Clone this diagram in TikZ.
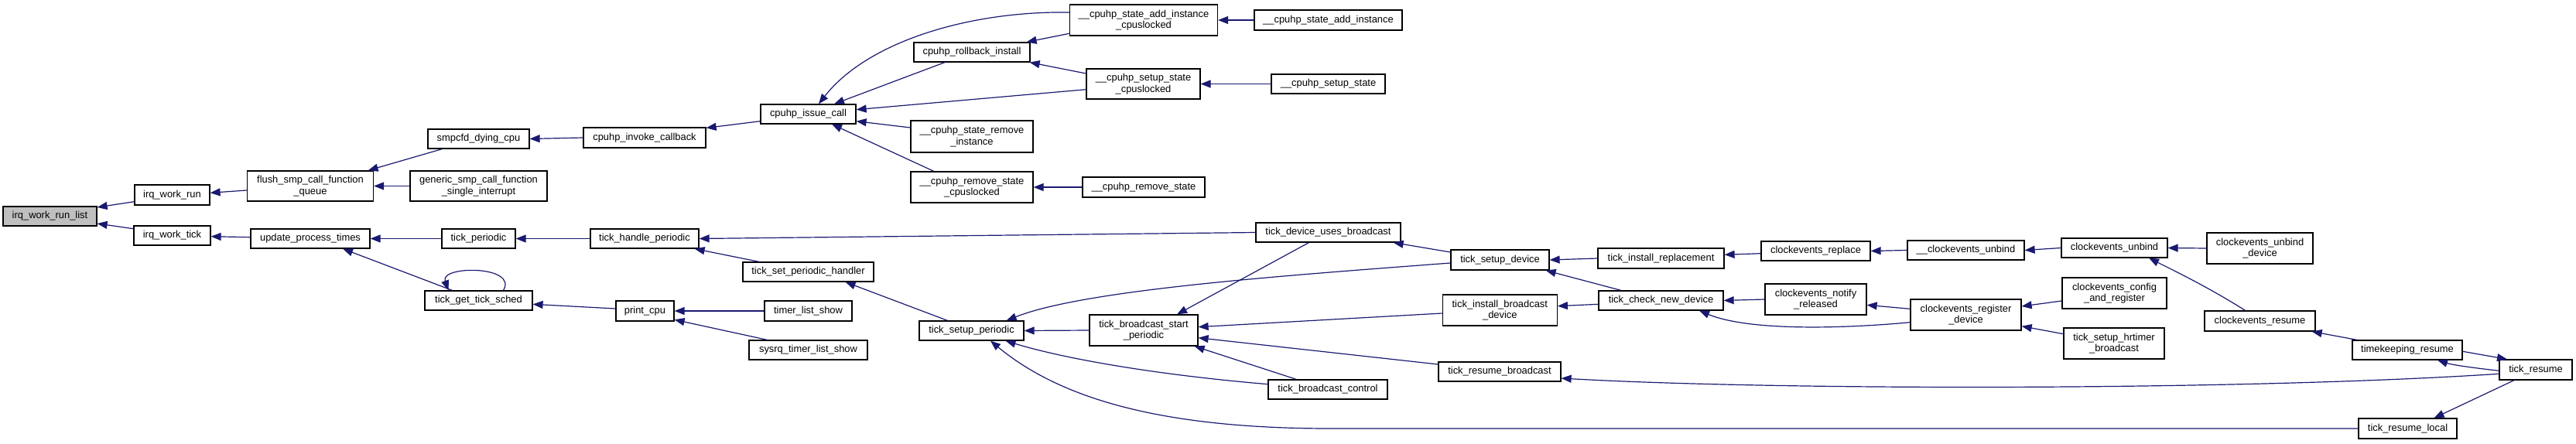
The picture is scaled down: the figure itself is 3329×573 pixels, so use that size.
\documentclass[tikz,border=0pt]{standalone}
\usepackage{fontspec}
\setmainfont{Liberation Sans}
\usetikzlibrary{arrows.meta}
\definecolor{edgeblue}{HTML}{191970}
\definecolor{mainfill}{HTML}{BFBFBF}
\tikzset{
  fnode/.style={draw=black, line width=1.2pt, fill=white, inner sep=0pt, align=center, text=black,
    font={\fontsize{12.9pt}{14.5pt}\selectfont}},
  mainnode/.style={fnode, fill=mainfill},
  edge/.style={draw=edgeblue, line width=1.2pt, -{Triangle[length=13pt,width=10pt]}},
}
\begin{document}
\begin{tikzpicture}[x=1pt,y=-1pt]
\useasboundingbox (0,0) rectangle (3329,573);
% nodes
\node[mainnode, minimum width=121pt, minimum height=25pt] (irl) at (64.5,279.5) {irq\_work\_run\_list};
\node[fnode, minimum width=97pt, minimum height=26pt] (iwr) at (222.5,252) {irq\_work\_run};
\node[fnode, minimum width=99pt, minimum height=25pt] (iwt) at (222.5,304.5) {irq\_work\_tick};
\node[fnode, minimum width=163pt, minimum height=39pt] (fsq) at (401,240.5) {flush\_smp\_call\_function\\\_queue};
\node[fnode, minimum width=154pt, minimum height=25pt] (upt) at (401,308.5) {update\_process\_times};
\node[fnode, minimum width=131pt, minimum height=25pt] (sdc) at (618.5,179.5) {smpcfd\_dying\_cpu};
\node[fnode, minimum width=177pt, minimum height=39pt] (gsc) at (618.5,240.5) {generic\_smp\_call\_function\\\_single\_interrupt};
\node[fnode, minimum width=95pt, minimum height=25pt] (tp) at (618.5,308.5) {tick\_periodic};
\node[fnode, minimum width=139pt, minimum height=25pt] (tgts) at (618.5,388.5) {tick\_get\_tick\_sched};
\node[fnode, minimum width=158pt, minimum height=26pt] (cic) at (833,178) {cpuhp\_invoke\_callback};
\node[fnode, minimum width=140pt, minimum height=25pt] (thp) at (833,308.5) {tick\_handle\_periodic};
\node[fnode, minimum width=75pt, minimum height=26pt] (pc) at (833.5,402) {print\_cpu};
\node[fnode, minimum width=123pt, minimum height=25pt] (cis) at (1044.5,147.5) {cpuhp\_issue\_call};
\node[fnode, minimum width=169pt, minimum height=25pt] (tsph) at (1044.5,351.5) {tick\_set\_periodic\_handler};
\node[fnode, minimum width=113pt, minimum height=26pt] (tls) at (1044.5,402) {timer\_list\_show};
\node[fnode, minimum width=153pt, minimum height=25pt] (stls) at (1044.5,452.5) {sysrq\_timer\_list\_show};
\node[fnode, minimum width=150pt, minimum height=25pt] (cri) at (1256,67.5) {cpuhp\_rollback\_install};
\node[fnode, minimum width=158pt, minimum height=41pt] (csri) at (1256,176.5) {\_\_cpuhp\_state\_remove\\\_instance};
\node[fnode, minimum width=158pt, minimum height=40pt] (crsc) at (1256,242) {\_\_cpuhp\_remove\_state\\\_cpuslocked};
\node[fnode, minimum width=135pt, minimum height=25pt] (tsp) at (1255.5,427.5) {tick\_setup\_periodic};
\node[fnode, minimum width=191pt, minimum height=40pt] (csaic) at (1478,26) {\_\_cpuhp\_state\_add\_instance\\\_cpuslocked};
\node[fnode, minimum width=147pt, minimum height=39pt] (cssc) at (1477.5,108.5) {\_\_cpuhp\_setup\_state\\\_cpuslocked};
\node[fnode, minimum width=158pt, minimum height=26pt] (crs) at (1478,242) {\_\_cpuhp\_remove\_state};
\node[fnode, minimum width=140pt, minimum height=40pt] (tbsp) at (1478,427) {tick\_broadcast\_start\\\_periodic};
\node[fnode, minimum width=191pt, minimum height=26pt] (csai) at (1716.5,26) {\_\_cpuhp\_state\_add\_instance};
\node[fnode, minimum width=147pt, minimum height=25pt] (css) at (1716.5,108.5) {\_\_cpuhp\_setup\_state};
\node[fnode, minimum width=187pt, minimum height=25pt] (tdub) at (1716.5,300.5) {tick\_device\_uses\_broadcast};
\node[fnode, minimum width=154pt, minimum height=25pt] (tbc) at (1716,503.5) {tick\_broadcast\_control};
\node[fnode, minimum width=127pt, minimum height=26pt] (tsd) at (1938.5,336) {tick\_setup\_device};
\node[fnode, minimum width=148pt, minimum height=40pt] (tibd) at (1938.3,401) {tick\_install\_broadcast\\\_device};
\node[fnode, minimum width=158pt, minimum height=25pt] (trb) at (1938,480.5) {tick\_resume\_broadcast};
\node[fnode, minimum width=163pt, minimum height=26pt] (tir) at (2146.5,334) {tick\_install\_replacement};
\node[fnode, minimum width=161pt, minimum height=25pt] (tcnd) at (2146.5,388.5) {tick\_check\_new\_device};
\node[fnode, minimum width=141pt, minimum height=25pt] (cr) at (2346.5,324.5) {clockevents\_replace};
\node[fnode, minimum width=131pt, minimum height=40pt] (cnr) at (2346.5,387) {clockevents\_notify\\\_released};
\node[fnode, minimum width=151pt, minimum height=25pt] (cu) at (2540.5,323.5) {\_\_clockevents\_unbind};
\node[fnode, minimum width=143pt, minimum height=40pt] (crd) at (2540.5,407) {clockevents\_register\\\_device};
\node[fnode, minimum width=137pt, minimum height=25pt] (cub) at (2732.5,320.5) {clockevents\_unbind};
\node[fnode, minimum width=135pt, minimum height=40pt] (ccar) at (2732.5,379) {clockevents\_config\\\_and\_register};
\node[fnode, minimum width=130pt, minimum height=40pt] (tshb) at (2732,444) {tick\_setup\_hrtimer\\\_broadcast};
\node[fnode, minimum width=137pt, minimum height=40pt] (cubd) at (2920.5,321) {clockevents\_unbind\\\_device};
\node[fnode, minimum width=143pt, minimum height=26pt] (cres) at (2920.5,415) {clockevents\_resume};
\node[fnode, minimum width=142pt, minimum height=25pt] (tkr) at (3111,452.5) {timekeeping\_resume};
\node[fnode, minimum width=127pt, minimum height=26pt] (trl) at (3111.5,554) {tick\_resume\_local};
\node[fnode, minimum width=94pt, minimum height=26pt] (tr) at (3277,478) {tick\_resume};
% edges
\draw[edge] ([yshift=-8.7pt]iwr.west) -- ([yshift=11.5pt]irl.east);
\draw[edge] ([yshift=8.8pt]iwt.west) -- ([yshift=-9.5pt]irl.east);
\draw[edge] ([yshift=-5.5pt]fsq.west) -- ([yshift=2.7pt]iwr.east);
\draw[edge] ([yshift=1.8pt]upt.west) -- ([yshift=-1.2pt]iwt.east);
\draw[edge] ([xshift=19pt]sdc.south west) -- ([xshift=-7.5pt]fsq.north east);
\draw[edge] (gsc.west) -- (fsq.east);
\draw[edge] (cic.west) -- (sdc.east);
\draw[edge] ([yshift=-9.2pt]cis.west) -- ([yshift=-1pt]cic.north east);
\draw[edge] ([yshift=10pt]csaic.west) .. controls (1250,14) and (1120,55) .. ([xshift=13.5pt]cis.north);
\draw[edge] ([xshift=-35pt]cri.south) -- ([xshift=33.5pt]cis.north);
\draw[edge] ([yshift=-7.2pt]cssc.west) -- ([yshift=5.8pt]cis.east);
\draw[edge] ([yshift=11.5pt]csri.west) -- ([yshift=-9.2pt]cis.east);
\draw[edge] ([xshift=-49.2pt]crsc.north) -- ([xshift=30.5pt]cis.south);
\draw[edge] ([yshift=-17.3pt]csaic.west) -- ([xshift=-5pt]cri.north east);
\draw[edge] ([yshift=13.5pt]cssc.west) -- ([xshift=-1pt]cri.south east);
\draw[edge] (csai.west) -- (csaic.east);
\draw[edge] (css.west) -- (cssc.east);
\draw[edge] (crs.west) -- (crsc.east);
\draw[edge] (tp.west) -- (upt.east);
\draw[edge] ([xshift=-34pt]tgts.north) -- ([xshift=42pt]upt.south);
\draw[edge] ([xshift=32pt]tgts.north) .. controls (670,343) and (568,343) .. ([xshift=-39pt]tgts.north);
\draw[edge] (thp.west) -- (tp.east);
\draw[edge] ([yshift=3pt]pc.west) -- ([yshift=-4.8pt]tgts.east);
\draw[edge] (tls.west) -- (pc.east);
\draw[edge] ([xshift=-53pt]stls.north) -- ([yshift=-11.3pt]pc.east);
\draw[edge] (tdub.west) -- (thp.east);
\draw[edge] ([xshift=-63.5pt]tsph.north) -- ([xshift=-6pt]thp.south east);
\draw[edge] ([xshift=-31pt]tsp.north) -- ([xshift=48pt]tsph.south);
\draw[edge] ([yshift=-4pt]tsd.west) .. controls (1650,357) and (1400,375) .. ([xshift=-23pt]tsp.north east);
\draw[edge] (tbsp.west) -- (tsp.east);
\draw[edge] ([xshift=-25pt]tdub.south) -- ([xshift=43pt]tbsp.north);
\draw[edge] ([yshift=-4pt]tibd.west) -- ([yshift=4.3pt]tbsp.east);
\draw[edge] ([yshift=9.5pt]trb.west) -- ([yshift=-9.7pt]tbsp.east);
\draw[edge] ([xshift=-40.7pt]tbc.north) -- ([xshift=-5pt]tbsp.south east);
\draw[edge] ([yshift=6.8pt]tbc.west) .. controls (1500,485) and (1380,465) .. ([xshift=44pt]tsp.south);
\draw[edge] (trl.west) -- (1720,554) .. controls (1500,554) and (1370,515) .. ([xshift=24.5pt]tsp.south);
\draw[edge] ([yshift=10pt]tsd.west) -- ([xshift=-10pt]tdub.south east);
\draw[edge] (tir.west) -- (tsd.east);
\draw[edge] ([xshift=-51.5pt]tcnd.north) -- ([xshift=-5pt]tsd.south east);
\draw[edge] ([yshift=-4.8pt]tcnd.west) -- ([yshift=5.3pt]tibd.east);
\draw[edge] ([yshift=-5.3pt]tr.west) .. controls (2900,505) and (2300,505) .. ([yshift=-8.5pt]trb.east);
\draw[edge] ([yshift=-3.2pt]cr.west) -- ([yshift=4.7pt]tir.east);
\draw[edge] (cu.west) -- (cr.east);
\draw[edge] (cub.west) -- (cu.east);
\draw[edge] (cnr.west) -- (tcnd.east);
\draw[edge] ([yshift=-9.7pt]crd.west) .. controls (2380,425) and (2260,428) .. ([xshift=49.5pt]tcnd.south);
\draw[edge] ([yshift=7.7pt]crd.west) -- ([yshift=-7.3pt]cnr.east);
\draw[edge] ([yshift=-10pt]ccar.west) -- ([yshift=11pt]crd.east);
\draw[edge] ([yshift=12.3pt]tshb.west) -- ([yshift=-14.7pt]crd.east);
\draw[edge] (cubd.west) -- (cub.east);
\draw[edge] ([xshift=-19pt]cres.north) .. controls (2860,375) and (2820,355) .. ([xshift=44.5pt]cub.south);
\draw[edge] ([xshift=-65pt]tkr.north) -- ([xshift=-5pt]cres.south east);
\draw[edge] ([yshift=-1.3pt]tr.west) .. controls (3200,476) and (3170,472) .. ([xshift=39pt]tkr.south);
\draw[edge] ([yshift=-1.8pt]tkr.east) -- ([xshift=-37pt]tr.north);
\draw[edge] ([xshift=-28pt]tr.south) -- ([xshift=34pt]trl.north);
\end{tikzpicture}
\end{document}
